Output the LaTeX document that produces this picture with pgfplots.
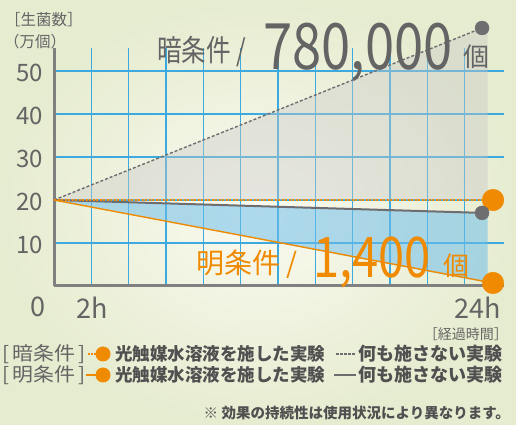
\documentclass[border=0pt]{standalone}
\usepackage{pgfplots}
\pgfplotsset{compat=1.18}
\usepackage{graphicx}
\usepackage{fontspec}
\setmainfont{Noto Sans CJK JP}

\definecolor{gridblue}{RGB}{60,170,222}
\definecolor{orng}{RGB}{240,138,0}
\definecolor{dgray}{RGB}{110,110,112}
\definecolor{txtgray}{RGB}{100,100,100}
\definecolor{lgtxt}{RGB}{80,80,80}
\definecolor{bgin}{RGB}{250,250,240}
\definecolor{bgout}{RGB}{230,236,208}

\begin{document}
\begin{tikzpicture}[x=1pt,y=1pt]
\useasboundingbox (0,0) rectangle (516,425);
\shade[inner color=bgin, outer color=bgout] (0,0) rectangle (516,425);

\begin{axis}[
    at={(54pt,139pt)}, anchor=origin,
    scale only axis, width=450pt, height=238pt,
    xmin=0, xmax=24.6, ymin=0, ymax=55.35,
    axis lines*=left,
    axis line style={draw=gray, line width=3pt},
    clip=false,
    ytick={10,20,30,40,50},
    yticklabels={10,20,30,40,50},
    ymajorgrids,
    xtick={2.08,23.15},
    xticklabels={2h,24h},
    extra x ticks={0},
    extra x tick labels={0},
    extra x tick style={grid=none, xticklabel style={xshift=-16.5pt}},
    minor xtick={2.04,4.08,6.12,8.16,10.2,12.24,14.28,16.32,18.36,20.4,22.44},
    xminorgrids, xmajorgrids=false,
    grid style={gridblue, line width=1.3pt},
    minor grid style={gridblue, line width=1.3pt},
    major tick length=0pt, minor tick length=0pt,
    yticklabel style={anchor=east, inner sep=0pt, xshift=-11pt, yshift=-2pt,
        font=\fontsize{24}{24}\selectfont, text=txtgray},
    xticklabel style={anchor=north, inner sep=0pt, yshift=-11pt,
        font=\fontsize{27}{27}\selectfont, text=txtgray},
]
% shaded areas
\addplot[draw=none, fill={rgb,255:red,200;green,200;blue,200}, fill opacity=0.4]
    coordinates {(0,20) (23.4,60) (23.7,60) (23.7,20)} -- cycle;
\addplot[draw=none, fill={rgb,255:red,110;green,190;blue,235}, fill opacity=0.54]
    coordinates {(0,20) (23.7,16.96) (23.7,0.74)} -- cycle;
% dark condition (no treatment), dashed
\addplot[dgray, line width=1.4pt, dash pattern=on 3pt off 2pt]
    coordinates {(0,20) (23.4,60)};
% light condition (no treatment), solid
\addplot[dgray, line width=2pt]
    coordinates {(0,20) (23.4,17)};
% dark condition (photocatalyst), dashed
\addplot[orng, line width=1.5pt, dash pattern=on 2pt off 1.5pt]
    coordinates {(0,20) (24,20)};
% light condition (photocatalyst), solid
\addplot[orng, line width=1.4pt]
    coordinates {(0,20) (24,0.7)};
\addplot[only marks, mark=*, mark size=10.8pt, color=orng]
    coordinates {(24,20) (24,0.7)};
\addplot[only marks, mark=*, mark size=7pt, color=dgray]
    coordinates {(23.4,60) (23.4,17)};
\end{axis}

% axis captions
\node[anchor=west, inner sep=0, text=txtgray, font=\fontsize{15.5}{15.5}\selectfont] at (5,405) {［生菌数］};
\node[anchor=west, inner sep=0, text=txtgray, font=\fontsize{15.5}{15.5}\selectfont] at (4,383) {（万個）};
\node[anchor=east, inner sep=0, text=txtgray, font=\fontsize{14}{14}\selectfont] at (508,91) {［経過時間］};

% annotations
\node[anchor=base west, inner sep=0, text=txtgray, font=\fontsize{30}{30}\selectfont] at (157,363) {\scalebox{0.82}[1]{暗条件 /}};
\node[anchor=base west, inner sep=0, text=txtgray, font=\fontsize{64}{64}\selectfont] at (263,355) {\scalebox{0.82}[1]{780,000}};
\node[anchor=base west, inner sep=0, text=txtgray, font=\fontsize{26}{26}\selectfont] at (463,358) {個};
\node[anchor=base west, inner sep=0, text=orng, font=\fontsize{28}{28}\selectfont] at (196,151) {明条件 /};
\node[anchor=base west, inner sep=0, text=orng, font=\fontsize{56}{56}\selectfont] at (313,147) {\scalebox{0.84}[1]{1,400}};
\node[anchor=base west, inner sep=0, text=orng, font=\fontsize{26}{26}\selectfont] at (443,149.5) {個};

% legend
\node[anchor=west, inner sep=0, text=txtgray, font=\fontsize{19}{19}\selectfont] at (2,71) {\scalebox{1.1}[1]{[\,暗条件\,]}};
\draw[orng, line width=1.3pt, dash pattern=on 1.5pt off 1.5pt] (88,71) -- (100,71);
\fill[orng] (103,71) circle (7.5);
\node[anchor=west, inner sep=0, text=lgtxt, font=\fontsize{17.5}{17.5}\selectfont\bfseries] at (115,71) {光触媒水溶液を施した実験};
\draw[dgray, line width=1.3pt, dash pattern=on 2.5pt off 1.6pt] (336,71) -- (356,71);
\node[anchor=west, inner sep=0, text=lgtxt, font=\fontsize{18}{18}\selectfont\bfseries] at (358,71) {何も施さない実験};

\node[anchor=west, inner sep=0, text=txtgray, font=\fontsize{19}{19}\selectfont] at (2,50) {\scalebox{1.1}[1]{[\,明条件\,]}};
\draw[orng, line width=2pt] (86,50) -- (100,50);
\fill[orng] (103,50) circle (7.5);
\node[anchor=west, inner sep=0, text=lgtxt, font=\fontsize{17.5}{17.5}\selectfont\bfseries] at (115,50) {光触媒水溶液を施した実験};
\draw[dgray, line width=2.5pt] (334,50) -- (356,50);
\node[anchor=west, inner sep=0, text=lgtxt, font=\fontsize{18}{18}\selectfont\bfseries] at (358,50) {何も施さない実験};

\node[anchor=east, inner sep=0, text=lgtxt, font=\fontsize{14.5}{14.5}\selectfont\bfseries] at (510,12) {※ 効果の持続性は使用状況により異なります。};
\end{tikzpicture}
\end{document}
